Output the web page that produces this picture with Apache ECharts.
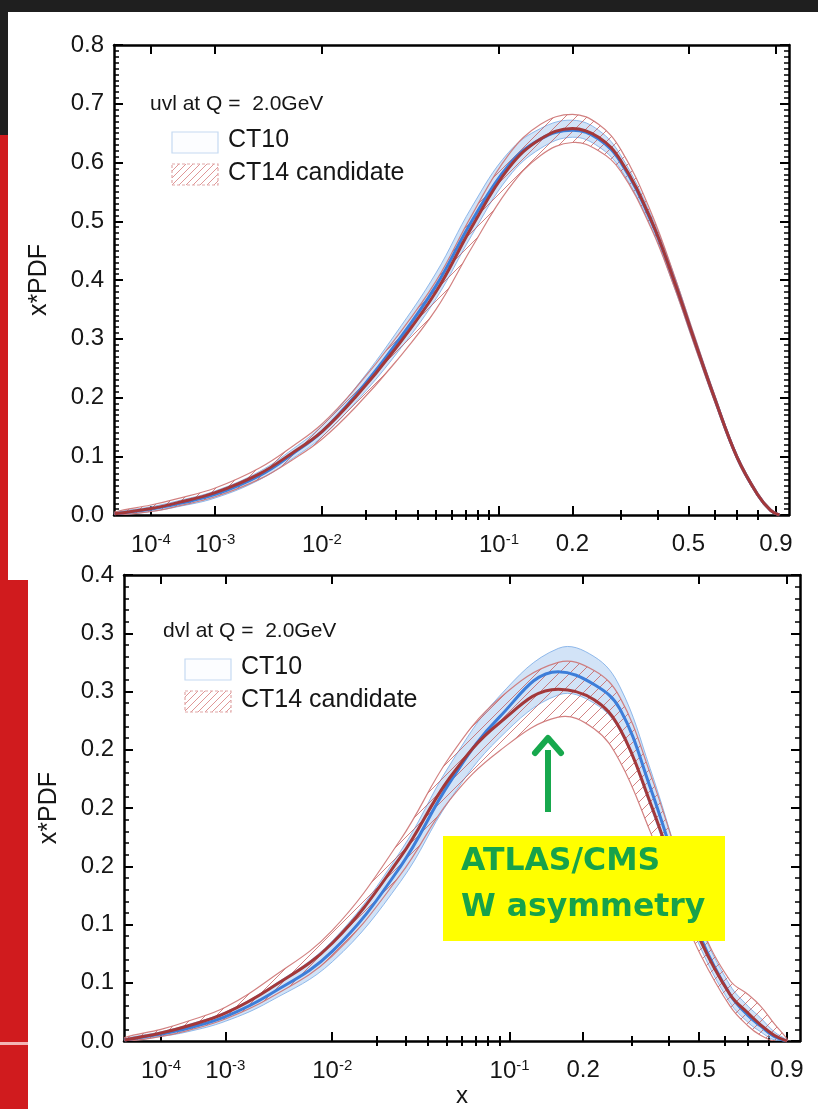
<!DOCTYPE html>
<html><head><meta charset="utf-8">
<script src="https://cdn.jsdelivr.net/npm/echarts@6/dist/echarts.min.js"></script>
<style>html,body{margin:0;padding:0;background:#1f1f1f;}#c{width:818px;height:1109px;}</style>
</head><body><div id="c"></div>
<script>
// ---------------- data ----------------
const xTickValues = [1e-4, 1e-3, 1e-2, 0.1, 0.2, 0.5, 0.9];
const xTickLabels = ['10{s|-4}', '10{s|-3}', '10{s|-2}', '10{s|-1}', '0.2', '0.5', '0.9'];
const xMinorTicks = [0.02, 0.03, 0.04, 0.05, 0.06, 0.07, 0.08, 0.09, 0.3, 0.4, 0.6, 0.7, 0.8];
const yTopLabels = ['0.0','0.1','0.2','0.3','0.4','0.5','0.6','0.7','0.8'];
const yBotLabels = ['0.0','0.1','0.1','0.2','0.2','0.2','0.3','0.3','0.4'];

// uvl at Q = 2.0 GeV
const xU = [1.2e-5, 1e-4, 3e-4, 1e-3, 3e-3, 0.006, 0.01, 0.017, 0.03, 0.05, 0.075, 0.11, 0.15, 0.2, 0.25, 0.3, 0.38, 0.45, 0.52, 0.6, 0.7, 0.8, 0.87, 0.92];
const uvlCT10    = [0.002, 0.010, 0.019, 0.035, 0.067, 0.105, 0.142, 0.203, 0.290, 0.390, 0.500, 0.595, 0.640, 0.655, 0.640, 0.600, 0.500, 0.400, 0.300, 0.200, 0.098, 0.035, 0.008, 0.000];
const uvlCT10Lo  = [0.000, 0.006, 0.014, 0.029, 0.060, 0.097, 0.133, 0.191, 0.272, 0.368, 0.476, 0.575, 0.624, 0.643, 0.627, 0.588, 0.490, 0.390, 0.292, 0.194, 0.094, 0.032, 0.006, 0.000];
const uvlCT10Hi  = [0.004, 0.014, 0.024, 0.041, 0.074, 0.113, 0.152, 0.216, 0.308, 0.412, 0.524, 0.617, 0.658, 0.672, 0.655, 0.612, 0.510, 0.410, 0.308, 0.206, 0.102, 0.038, 0.010, 0.001];
const uvlCT14    = [0.002, 0.011, 0.021, 0.038, 0.070, 0.107, 0.142, 0.200, 0.283, 0.380, 0.490, 0.590, 0.640, 0.658, 0.643, 0.603, 0.502, 0.400, 0.300, 0.200, 0.098, 0.035, 0.008, 0.000];
const uvlCT14Lo  = [0.000, 0.006, 0.015, 0.031, 0.061, 0.095, 0.129, 0.183, 0.260, 0.350, 0.455, 0.555, 0.612, 0.634, 0.620, 0.585, 0.488, 0.390, 0.292, 0.194, 0.094, 0.032, 0.006, 0.000];
const uvlCT14Hi  = [0.005, 0.017, 0.028, 0.046, 0.080, 0.118, 0.155, 0.215, 0.300, 0.398, 0.510, 0.613, 0.665, 0.682, 0.665, 0.622, 0.515, 0.410, 0.308, 0.206, 0.102, 0.038, 0.010, 0.001];

// dvl at Q = 2.0 GeV
const xD = [1.2e-5, 1e-4, 3e-4, 1e-3, 3e-3, 0.01, 0.028, 0.052, 0.09, 0.16, 0.22, 0.273, 0.347, 0.435, 0.503, 0.62, 0.7, 0.76, 0.83, 0.9];
const dvlCT10    = [0.001, 0.006, 0.011, 0.021, 0.040, 0.077, 0.150, 0.222, 0.278, 0.317, 0.306, 0.285, 0.218, 0.140, 0.090, 0.040, 0.022, 0.013, 0.004, 0.000];
const dvlCT10Lo  = [0.000, 0.004, 0.008, 0.017, 0.034, 0.068, 0.137, 0.207, 0.260, 0.297, 0.290, 0.266, 0.202, 0.128, 0.081, 0.033, 0.016, 0.008, 0.001, 0.000];
const dvlCT10Hi  = [0.002, 0.008, 0.014, 0.025, 0.046, 0.086, 0.163, 0.237, 0.296, 0.337, 0.330, 0.304, 0.234, 0.152, 0.099, 0.048, 0.030, 0.020, 0.008, 0.001];
const dvlCT14    = [0.001, 0.007, 0.013, 0.024, 0.045, 0.084, 0.158, 0.226, 0.273, 0.302, 0.293, 0.268, 0.205, 0.133, 0.087, 0.040, 0.024, 0.014, 0.005, 0.000];
const dvlCT14Lo  = [0.000, 0.004, 0.009, 0.019, 0.037, 0.073, 0.143, 0.207, 0.249, 0.278, 0.268, 0.240, 0.180, 0.115, 0.075, 0.030, 0.013, 0.005, 0.000, 0.000];
const dvlCT14Hi  = [0.003, 0.010, 0.017, 0.029, 0.053, 0.095, 0.173, 0.244, 0.294, 0.325, 0.318, 0.295, 0.230, 0.152, 0.100, 0.052, 0.040, 0.030, 0.015, 0.002];

// ---------------- axis transform (x plotted as x^P) ----------------
const P = 0.22;
const T = x => Math.pow(x, P);
const X_MIN = 1.15e-5, X_MAX = 0.976;

const FONT = '"Liberation Sans", Arial, Helvetica, sans-serif';
const BLUE_LINE = '#3d7ed9', RED_LINE = '#a3383a';
const TXT = '#161616';

function hatchCanvas(color, bg, size) {
  const c = document.createElement('canvas');
  c.width = size; c.height = size;
  const ctx = c.getContext('2d');
  if (bg) { ctx.fillStyle = bg; ctx.fillRect(0, 0, size, size); }
  ctx.strokeStyle = color; ctx.lineWidth = 1;
  ctx.beginPath();
  ctx.moveTo(0, size); ctx.lineTo(size, 0);
  ctx.moveTo(-2, 2); ctx.lineTo(2, -2);
  ctx.moveTo(size - 2, size + 2); ctx.lineTo(size + 2, size - 2);
  ctx.stroke();
  return c;
}
const hatchBand = hatchCanvas('rgba(195,90,90,0.75)', null, 11);
const hatchLegend = hatchCanvas('rgba(220,140,140,0.9)', null, 7);

function bandSeries(xs, lo, hi, xi, yi, style, z) {
  return {
    type: 'custom', xAxisIndex: xi, yAxisIndex: yi, z: z, silent: true, clip: true,
    data: xs.map((x, i) => [T(x), lo[i], hi[i]]),
    encode: { x: 0, y: [1, 2] },
    renderItem: function (params, api) {
      if (params.dataIndex !== 0) return null;
      const up = [], dn = [];
      for (let i = 0; i < xs.length; i++) {
        up.push(api.coord([T(xs[i]), hi[i]]));
        dn.push(api.coord([T(xs[i]), lo[i]]));
      }
      return {
        type: 'polygon',
        shape: { points: up.concat(dn.reverse()), smooth: 0.4 },
        style: style
      };
    }
  };
}
function lineSeries(xs, ys, xi, yi, color, z) {
  return {
    type: 'line', xAxisIndex: xi, yAxisIndex: yi, z: z, silent: true,
    data: xs.map((x, i) => [T(x), ys[i]]),
    showSymbol: false, smooth: 0.4,
    lineStyle: { color: color, width: 3 }
  };
}

function xAxesFor(g, withName) {
  const base = {
    gridIndex: g, type: 'value', min: T(X_MIN), max: T(X_MAX),
    splitLine: { show: false }, axisPointer: { show: false }
  };
  const tickStyle = { color: '#000', width: 2 };
  const major = xTickValues.map(T), minor = xMinorTicks.map(T);
  return [
    Object.assign({}, base, {
      position: 'bottom',
      axisLine: { show: true, onZero: false, lineStyle: { color: '#000', width: 2.5 } },
      axisTick: { show: true, inside: true, length: 9, customValues: major, lineStyle: tickStyle },
      axisLabel: {
        show: true, customValues: major, margin: 17, color: TXT, fontFamily: FONT, fontSize: 24,
        formatter: function (v) {
          let best = 0;
          for (let i = 1; i < major.length; i++) if (Math.abs(major[i] - v) < Math.abs(major[best] - v)) best = i;
          return xTickLabels[best];
        },
        rich: { s: { fontSize: 15, fontFamily: FONT, color: TXT, verticalAlign: 'top', padding: [0, 0, 11, 0] } }
      },
      name: withName ? 'x' : '', nameLocation: 'middle', nameGap: 42,
      nameTextStyle: { fontFamily: FONT, fontSize: 24, color: TXT }
    }),
    Object.assign({}, base, {
      position: 'bottom', axisLine: { show: false },
      axisTick: { show: true, inside: true, length: 5, customValues: minor, lineStyle: tickStyle },
      axisLabel: { show: false }
    }),
    Object.assign({}, base, {
      position: 'top',
      axisLine: { show: true, onZero: false, lineStyle: { color: '#000', width: 2.5 } },
      axisTick: { show: true, inside: true, length: 9, customValues: major, lineStyle: tickStyle },
      axisLabel: { show: false }
    }),
    Object.assign({}, base, {
      position: 'top', axisLine: { show: false },
      axisTick: { show: true, inside: true, length: 5, customValues: minor, lineStyle: tickStyle },
      axisLabel: { show: false }
    })
  ];
}
function yAxesFor(g, max, interval, labels, minorSplit) {
  const base = {
    gridIndex: g, type: 'value', min: 0, max: max, interval: interval,
    splitLine: { show: false },
    axisLine: { show: true, onZero: false, lineStyle: { color: '#000', width: 2.5 } },
    axisTick: { show: true, inside: true, length: 9, lineStyle: { color: '#000', width: 2 } },
    minorTick: { show: true, splitNumber: minorSplit, length: 5, lineStyle: { color: '#000', width: 1.5 } }
  };
  return [
    Object.assign({}, base, {
      position: 'left',
      axisLabel: {
        show: true, margin: 10, color: TXT, fontFamily: FONT, fontSize: 24,
        formatter: v => labels[Math.round(v / interval)]
      },
      name: 'x*PDF', nameLocation: 'middle', nameGap: 62, nameRotate: 90,
      nameTextStyle: { fontFamily: FONT, fontSize: 25, color: TXT }
    }),
    Object.assign({}, base, { position: 'right', axisLabel: { show: false } })
  ];
}

const blueBandStyle = { fill: 'rgba(165,200,240,0.5)', stroke: 'rgba(120,170,230,0.8)', lineWidth: 1 };
const redBandStyle = { fill: { image: hatchBand, repeat: 'repeat' }, stroke: 'rgba(205,115,115,0.9)', lineWidth: 1.2 };

const series = [
  bandSeries(xU, uvlCT10Lo, uvlCT10Hi, 0, 0, blueBandStyle, 2),
  bandSeries(xU, uvlCT14Lo, uvlCT14Hi, 0, 0, redBandStyle, 3),
  lineSeries(xU, uvlCT10, 0, 0, BLUE_LINE, 4),
  lineSeries(xU, uvlCT14, 0, 0, RED_LINE, 5),
  bandSeries(xD, dvlCT10Lo, dvlCT10Hi, 4, 2, blueBandStyle, 2),
  bandSeries(xD, dvlCT14Lo, dvlCT14Hi, 4, 2, redBandStyle, 3),
  lineSeries(xD, dvlCT10, 4, 2, BLUE_LINE, 4),
  lineSeries(xD, dvlCT14, 4, 2, RED_LINE, 5)
];

function legendGraphics(title, x0, y0) {
  const ts = { fontFamily: FONT, fontSize: 25, fill: TXT };
  return [
    { type: 'text', left: x0, top: y0 - 12, style: Object.assign({ text: title }, ts, { fontSize: 21 }), z: 50 },
    { type: 'rect', shape: { x: x0 + 22, y: y0 + 26, width: 46, height: 21 },
      style: { fill: '#fcfdff', stroke: '#c5daf2', lineWidth: 1.2 }, z: 50 },
    { type: 'text', left: x0 + 78, top: y0 + 22, style: Object.assign({ text: 'CT10' }, ts), z: 50 },
    { type: 'rect', shape: { x: x0 + 22, y: y0 + 58, width: 46, height: 21 },
      style: { fill: { image: hatchLegend, repeat: 'repeat' }, stroke: '#e2a9a9', lineWidth: 1.2, lineDash: [3, 2] }, z: 50 },
    { type: 'text', left: x0 + 78, top: y0 + 55, style: Object.assign({ text: 'CT14 candidate' }, ts), z: 50 }
  ];
}

const graphics = [
  // slide background
  { type: 'rect', shape: { x: 8, y: 12, width: 810, height: 570 }, style: { fill: '#ffffff' }, z: -10 },
  { type: 'rect', shape: { x: 0, y: 135, width: 8, height: 450 }, style: { fill: '#d01b1e' }, z: -9 },
  { type: 'rect', shape: { x: 28, y: 565, width: 790, height: 544 }, style: { fill: '#ffffff' }, z: -10 },
  { type: 'rect', shape: { x: 0, y: 580, width: 28, height: 529 }, style: { fill: '#d01b1e' }, z: -9 },
  { type: 'rect', shape: { x: 0, y: 1042, width: 28, height: 3 }, style: { fill: '#f3b5b5' }, z: -8 },
  // annotation
  { type: 'rect', shape: { x: 443, y: 836, width: 282, height: 105 }, style: { fill: '#ffff00' }, z: 60 },
  { type: 'text', left: 461, top: 846, style: { text: 'ATLAS/CMS', fontFamily: '"DejaVu Sans", sans-serif', fontWeight: 'bold', fontSize: 31.5, fill: '#17a24a' }, z: 61 },
  { type: 'text', left: 461, top: 892, style: { text: 'W asymmetry', fontFamily: '"DejaVu Sans", sans-serif', fontWeight: 'bold', fontSize: 31.5, fill: '#17a24a' }, z: 61 },
  { type: 'line', shape: { x1: 548, y1: 812, x2: 548, y2: 750 }, style: { stroke: '#17a84d', lineWidth: 6 }, z: 61 },
  { type: 'polyline', shape: { points: [[535, 753], [548, 738], [561, 753]] }, style: { stroke: '#17a84d', lineWidth: 6, fill: null, lineCap: 'round', lineJoin: 'round' }, z: 61 }
].concat(legendGraphics('uvl at Q =  2.0GeV', 150, 106), legendGraphics('dvl at Q =  2.0GeV', 163, 633));

const chart = echarts.init(document.getElementById('c'), null, { renderer: 'canvas' });
chart.setOption({
  animation: false,
  backgroundColor: 'transparent',
  grid: [
    { left: 114, top: 45, width: 675, height: 470 },
    { left: 124, top: 575, width: 676, height: 472 }
  ],
  xAxis: xAxesFor(0, false).concat(xAxesFor(1, true)),
  yAxis: yAxesFor(0, 0.8, 0.1, yTopLabels, 10).concat(yAxesFor(1, 0.4, 0.05, yBotLabels, 5)),
  series: series,
  graphic: graphics
});
</script></body></html>
